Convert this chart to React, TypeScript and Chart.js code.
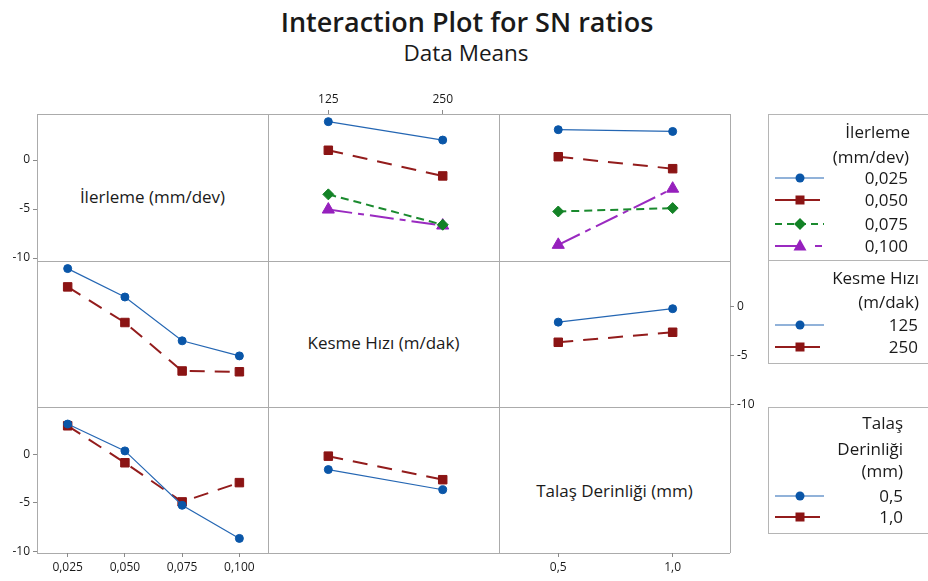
import React, { useEffect, useRef } from 'react';
import { Chart, registerables } from 'chart.js';

Chart.register(...registerables);

const FONT = '"Open Sans", "DejaVu Sans", sans-serif';
const TEXT = '#1a1a1a';

// ---- factor levels & tick labels ----
const ilerlemeLevels = [0.025, 0.05, 0.075, 0.1];
const ilerlemeTickLabels = ['0,025', '0,050', '0,075', '0,100'];
const kesmeLevels = [125, 250];
const kesmeTickLabels = ['125', '250'];
const talasLevels = [0.5, 1.0];
const talasTickLabels = ['0,5', '1,0'];
const snTicks = [0, -5, -10];
const snTickLabels = ['0', '-5', '-10'];

// ---- SN ratio means (interaction tables) ----
// İlerleme levels x Kesme Hızı 125 / 250
const snIlerlemeKesme125 = [3.92, 1.0, -3.5, -5.05];
const snIlerlemeKesme250 = [2.04, -1.62, -6.6, -6.68];
// İlerleme levels x Talaş Derinliği 0,5 / 1,0
const snIlerlemeTalas05 = [3.1, 0.34, -5.25, -8.65];
const snIlerlemeTalas10 = [2.92, -0.88, -4.9, -2.92];
// Talaş Derinliği levels (0,5 / 1,0) x Kesme Hızı 125 / 250
const snKesmeTalas125 = [-1.58, -0.2];
const snKesmeTalas250 = [-3.65, -2.62];

// legend labels
const ilerlemeLegend = ['0,025', '0,050', '0,075', '0,100'];
const kesmeLegend = ['125', '250'];
const talasLegend = ['0,5', '1,0'];

type St = { line: string; point: string; pointStyle: any; radius: number; width: number; dash: number[] };
const STYLES: St[] = [
  { line: '#2466b3', point: '#0a56a8', pointStyle: 'circle', radius: 4, width: 1.2, dash: [] },
  { line: '#931c1c', point: '#8b1414', pointStyle: 'rect', radius: 6, width: 2, dash: [15, 10] },
  { line: '#1a8a2e', point: '#138226', pointStyle: 'rectRot', radius: 5.5, width: 2, dash: [8, 5] },
  { line: '#9a2ac0', point: '#9620bd', pointStyle: 'triangle', radius: 7, width: 2, dash: [24, 6, 6, 6] },
];

const M = 45;
const COLS = [37, 268, 499, 730];
const ROWS = [114, 261, 407, 553];
const X_RANGES: [number, number][] = [[0.0116, 0.1125], [59.1, 311.5], [0.241, 1.2506]];
const Y_RANGES: [number, number][] = [[-10.3, 4.7], [-10.3, 4.7], [-10.15, 4.85]];

type Axis = { side: 'left' | 'right' | 'top' | 'bottom'; values: number[]; labels: string[] };
type Series = { xs: number[]; ys: number[]; style: number };

function scaleOpts(range: [number, number], axis: Axis | undefined, horizontal: boolean) {
  return {
    type: 'linear',
    display: !!axis,
    position: axis ? axis.side : horizontal ? 'bottom' : 'left',
    min: range[0],
    max: range[1],
    afterFit: (s: any) => {
      if (!axis) {
        s.width = 0;
        s.height = 0;
        return;
      }
      if (horizontal) s.height = M;
      else s.width = M;
    },
    afterBuildTicks: (s: any) => {
      s.ticks = (axis ? axis.values : []).map((v) => ({ value: v }));
    },
    ticks: {
      autoSkip: false,
      maxRotation: 0,
      padding: 3,
      font: { family: FONT, size: 12 },
      color: TEXT,
      callback: (v: any) => {
        if (!axis) return '';
        const i = axis.values.indexOf(v);
        return i >= 0 ? axis.labels[i] : '';
      },
    },
    grid: { drawOnChartArea: false, drawTicks: true, tickLength: 4, color: '#8a8a8a', lineWidth: 1 },
    border: { display: false },
  };
}

function Panel(props: { row: number; col: number; series: Series[]; xAxis?: Axis; yAxis?: Axis }) {
  const { row, col, series, xAxis, yAxis } = props;
  const ref = useRef<HTMLCanvasElement>(null);
  const x = COLS[col];
  const y = ROWS[row];
  const w = COLS[col + 1] - x;
  const h = ROWS[row + 1] - y;
  const cw = w + 2 * M;
  const ch = h + 2 * M;
  useEffect(() => {
    if (!ref.current) return;
    const chart = new Chart(ref.current, {
      type: 'line',
      data: {
        datasets: series.map((s) => {
          const st = STYLES[s.style];
          return {
            data: s.xs.map((xv, i) => ({ x: xv, y: s.ys[i] })),
            borderColor: st.line,
            backgroundColor: st.point,
            pointBackgroundColor: st.point,
            pointBorderColor: st.point,
            pointStyle: st.pointStyle,
            pointRadius: st.radius,
            pointBorderWidth: 1,
            borderWidth: st.width,
            borderDash: st.dash,
            fill: false,
            tension: 0,
            clip: false,
          } as any;
        }),
      },
      options: {
        responsive: false,
        animation: false,
        events: [],
        layout: {
          padding: {
            left: yAxis && yAxis.side === 'left' ? 0 : M,
            right: yAxis && yAxis.side === 'right' ? 0 : M,
            top: xAxis && xAxis.side === 'top' ? 0 : M,
            bottom: xAxis && xAxis.side === 'bottom' ? 0 : M,
          },
        },
        plugins: { legend: { display: false }, tooltip: { enabled: false }, title: { display: false } },
        scales: {
          x: scaleOpts(X_RANGES[col], xAxis, true) as any,
          y: scaleOpts(Y_RANGES[row], yAxis, false) as any,
        },
      },
    });
    return () => chart.destroy();
  }, []);
  return (
    <canvas
      ref={ref}
      width={cw}
      height={ch}
      style={{ position: 'absolute', left: x - M, top: y - M, width: cw, height: ch }}
    />
  );
}

function DiagLabel({ idx, text, cy }: { idx: number; text: string; cy: number }) {
  return (
    <div
      style={{
        position: 'absolute',
        left: COLS[idx],
        width: COLS[idx + 1] - COLS[idx],
        top: cy - 12,
        lineHeight: '24px',
        fontSize: 17,
        textAlign: 'center',
        whiteSpace: 'nowrap',
      }}
    >
      {text}
    </div>
  );
}

function LegendText({ text, cy, right }: { text: string; cy: number; right: number }) {
  return (
    <div
      style={{
        position: 'absolute',
        right: 928 - right,
        top: cy - 12,
        lineHeight: '24px',
        fontSize: 17,
        whiteSpace: 'nowrap',
      }}
    >
      {text}
    </div>
  );
}

function Marker({ style, cx, cy }: { style: number; cx: number; cy: number }) {
  const st = STYLES[style];
  if (style === 0) return <circle cx={cx} cy={cy} r={4.5} fill={st.point} />;
  if (style === 1) return <rect x={cx - 4.5} y={cy - 4.5} width={9} height={9} fill={st.point} />;
  if (style === 2)
    return <polygon points={`${cx},${cy - 6} ${cx + 6},${cy} ${cx},${cy + 6} ${cx - 6},${cy}`} fill={st.point} />;
  return <polygon points={`${cx},${cy - 7} ${cx + 6.5},${cy + 4.5} ${cx - 6.5},${cy + 4.5}`} fill={st.point} />;
}

function LegendSample({ style, cy }: { style: number; cy: number }) {
  const st = STYLES[style];
  const dash = style === 2 ? '7 5' : style === 3 ? '24 16 7 20' : undefined;
  const x2 = style === 1 ? 48 : 52;
  return (
    <svg style={{ position: 'absolute', left: 772, top: cy - 9 }} width={58} height={18}>
      <line x1={3} y1={9} x2={x2} y2={9} stroke={st.line} strokeWidth={style === 0 ? 1.2 : 2} strokeDasharray={dash} />
      <Marker style={style} cx={28} cy={9} />
    </svg>
  );
}

function GridLines() {
  const els: any[] = [];
  const c = '#ababab';
  COLS.forEach((x, i) =>
    els.push(
      <div key={'v' + i} style={{ position: 'absolute', left: x - 0.5, top: ROWS[0], width: 1, height: ROWS[3] - ROWS[0], background: c }} />
    )
  );
  ROWS.forEach((y, i) =>
    els.push(
      <div key={'h' + i} style={{ position: 'absolute', left: COLS[0], top: y - 0.5, width: COLS[3] - COLS[0], height: 1, background: c }} />
    )
  );
  return <>{els}</>;
}

export default function App() {
  const yLeft: Axis = { side: 'left', values: snTicks, labels: snTickLabels };
  const yRight: Axis = { side: 'right', values: snTicks, labels: snTickLabels };
  const xIler: Axis = { side: 'bottom', values: ilerlemeLevels, labels: ilerlemeTickLabels };
  const xKesTop: Axis = { side: 'top', values: kesmeLevels, labels: kesmeTickLabels };
  const xTalas: Axis = { side: 'bottom', values: talasLevels, labels: talasTickLabels };

  const r1c2: Series[] = ilerlemeLevels.map((_, i) => ({
    xs: kesmeLevels,
    ys: [snIlerlemeKesme125[i], snIlerlemeKesme250[i]],
    style: i,
  }));
  const r1c3: Series[] = ilerlemeLevels.map((_, i) => ({
    xs: talasLevels,
    ys: [snIlerlemeTalas05[i], snIlerlemeTalas10[i]],
    style: i,
  }));
  const r2c1: Series[] = [
    { xs: ilerlemeLevels, ys: snIlerlemeKesme125, style: 0 },
    { xs: ilerlemeLevels, ys: snIlerlemeKesme250, style: 1 },
  ];
  const r2c3: Series[] = [
    { xs: talasLevels, ys: snKesmeTalas125, style: 0 },
    { xs: talasLevels, ys: snKesmeTalas250, style: 1 },
  ];
  const r3c1: Series[] = [
    { xs: ilerlemeLevels, ys: snIlerlemeTalas05, style: 0 },
    { xs: ilerlemeLevels, ys: snIlerlemeTalas10, style: 1 },
  ];
  const r3c2: Series[] = [
    { xs: kesmeLevels, ys: [snKesmeTalas125[0], snKesmeTalas250[0]], style: 0 },
    { xs: kesmeLevels, ys: [snKesmeTalas125[1], snKesmeTalas250[1]], style: 1 },
  ];

  return (
    <div
      style={{
        position: 'fixed',
        left: 0,
        top: 0,
        width: 928,
        height: 581,
        overflow: 'hidden',
        background: '#fff',
        fontFamily: FONT,
        color: TEXT,
      }}
    >
      <div style={{ position: 'absolute', left: 3, width: 928, top: 6, lineHeight: '32px', fontSize: 27, fontWeight: 600, textAlign: 'center' }}>
        Interaction Plot for SN ratios
      </div>
      <div style={{ position: 'absolute', left: 2, width: 928, top: 39, lineHeight: '28px', fontSize: 22.5, textAlign: 'center' }}>
        Data Means
      </div>

      <GridLines />

      <DiagLabel idx={0} text="İlerleme (mm/dev)" cy={197} />
      <DiagLabel idx={1} text="Kesme Hızı (m/dak)" cy={343} />
      <DiagLabel idx={2} text="Talaş Derinliği (mm)" cy={491} />

      <Panel row={0} col={0} series={[]} yAxis={yLeft} />
      <Panel row={0} col={1} series={r1c2} xAxis={xKesTop} />
      <Panel row={0} col={2} series={r1c3} />
      <Panel row={1} col={0} series={r2c1} />
      <Panel row={1} col={2} series={r2c3} yAxis={yRight} />
      <Panel row={2} col={0} series={r3c1} xAxis={xIler} yAxis={yLeft} />
      <Panel row={2} col={1} series={r3c2} />
      <Panel row={2} col={2} series={[]} xAxis={xTalas} />

      {/* legends */}
      <div style={{ position: 'absolute', left: 768, top: 114, width: 200, height: 147, border: '1px solid #b5b5b5', boxSizing: 'border-box' }} />
      <div style={{ position: 'absolute', left: 768, top: 260, width: 200, height: 104, border: '1px solid #b5b5b5', boxSizing: 'border-box' }} />
      <div style={{ position: 'absolute', left: 768, top: 407, width: 200, height: 127, border: '1px solid #b5b5b5', boxSizing: 'border-box' }} />

      <LegendText text="İlerleme" cy={132} right={910} />
      <LegendText text="(mm/dev)" cy={157} right={909} />
      {ilerlemeLegend.map((t, i) => (
        <React.Fragment key={'il' + i}>
          <LegendSample style={i} cy={[178, 200, 224, 246][i]} />
          <LegendText text={t} cy={[178, 200, 224, 246][i]} right={908} />
        </React.Fragment>
      ))}

      <LegendText text="Kesme Hızı" cy={278} right={919} />
      <LegendText text="(m/dak)" cy={302} right={919} />
      {kesmeLegend.map((t, i) => (
        <React.Fragment key={'ke' + i}>
          <LegendSample style={i} cy={[325, 347][i]} />
          <LegendText text={t} cy={[325, 347][i]} right={918} />
        </React.Fragment>
      ))}

      <LegendText text="Talaş" cy={423} right={903} />
      <LegendText text="Derinliği" cy={449} right={903} />
      <LegendText text="(mm)" cy={471} right={903} />
      {talasLegend.map((t, i) => (
        <React.Fragment key={'ta' + i}>
          <LegendSample style={i} cy={[496, 517][i]} />
          <LegendText text={t} cy={[496, 517][i]} right={903} />
        </React.Fragment>
      ))}
    </div>
  );
}
